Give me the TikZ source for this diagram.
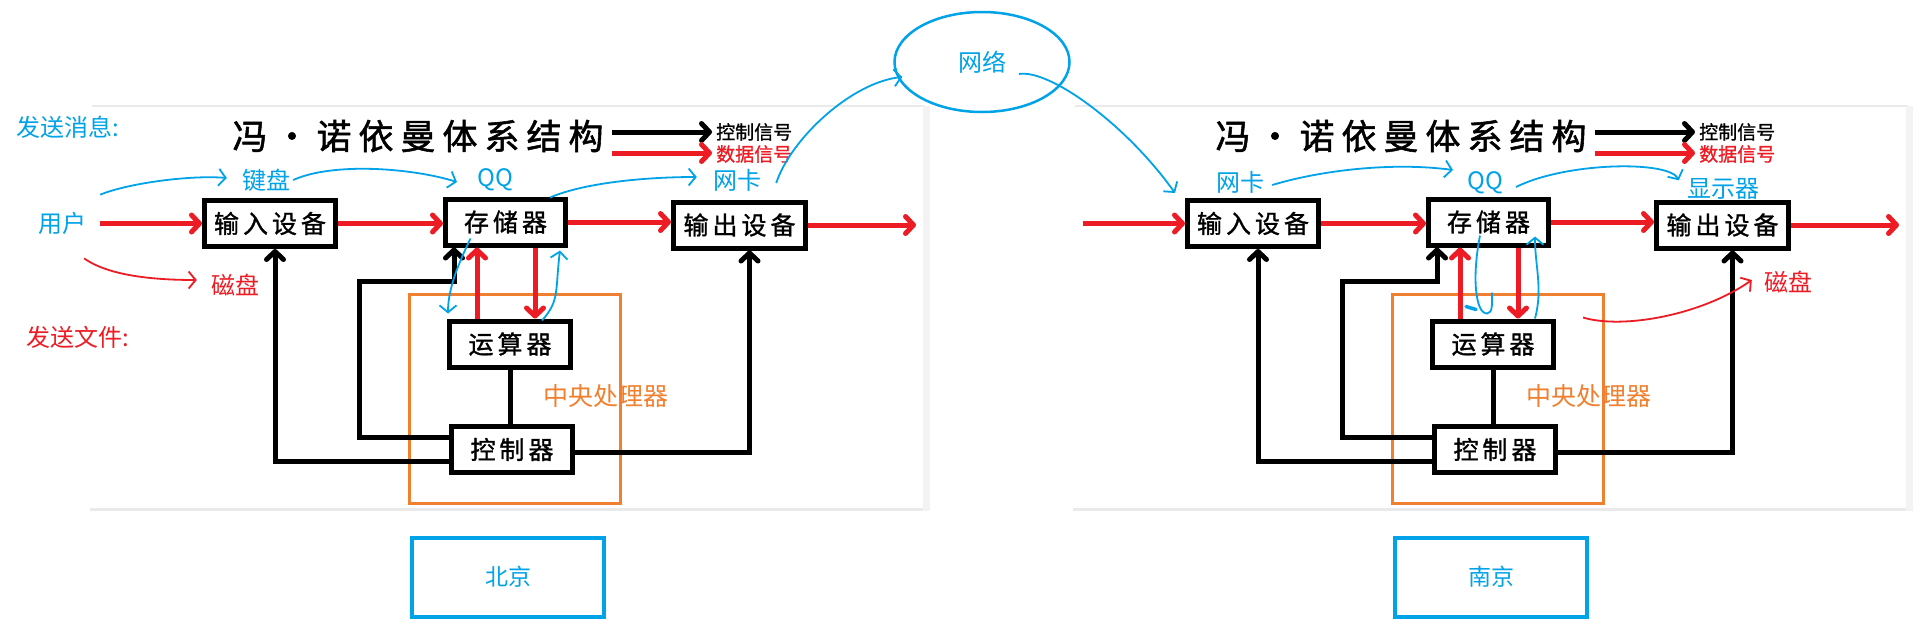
\documentclass[tikz,border=0pt]{standalone}
\usepackage{fontspec}
\usetikzlibrary{arrows.meta,shapes.geometric}
\newfontfamily\cjk{Noto Sans CJK SC}
\newfontfamily\cjkwide[LetterSpace=16,FakeBold=1.2]{Noto Sans CJK SC}
\newfontfamily\cjkhead[LetterSpace=20,FakeBold=1.5]{Noto Sans CJK SC}
\newfontfamily\cjkleg[FakeBold=1]{Noto Sans CJK SC}
\definecolor{pen}{RGB}{0,162,232}
\definecolor{sigred}{RGB}{237,28,36}
\definecolor{cpuorange}{RGB}{240,128,48}
\definecolor{rimgray}{RGB}{234,234,234}
\begin{document}
\begin{tikzpicture}[x=1pt,y=-1pt,
    unit/.style={draw,line width=5pt,minimum height=46pt,inner sep=0pt,font=\cjkwide\fontsize{25}{27}\selectfont},
    ctl/.style={line width=5pt,-{Straight Barb[length=8pt,width=17pt,round]}},
    dat/.style={ctl,draw=sigred},
    wire/.style={line width=5pt},
    hand/.style={draw=pen,line width=1.8pt,-{Straight Barb[length=7pt,width=17pt]}},
    lbl/.style={text=pen,inner sep=0pt,font=\cjk\fontsize{24}{26}\selectfont},
    legtext/.style={anchor=west,inner sep=0pt,font=\cjkleg\fontsize{19}{21}\selectfont},
    rim/.style={draw=rimgray,line width=1.5pt}]
    \fill[white] (0,0) rectangle (1930,633);
    \useasboundingbox (0,0) rectangle (1930,633);
    \foreach \p/\dx/\city in {bj/0/北京,nj/983/南京}{
    \begin{scope}[shift={(\dx,0)}]
    \draw[rim] (92,106)--(925,106);
    \fill[rimgray!60] (923,106) rectangle (930,511);
    \draw[rim,line width=3pt] (90,509)--(923,509);
    \node[font=\cjkhead\fontsize{35}{38}\selectfont,inner sep=0pt] (\p-title) at (418,136) {冯・诺依曼体系结构};
    \node[legtext] (\p-ctl) at (716,132) {控制信号};
    \node[legtext,text=sigred] (\p-dat) at (716,154) {数据信号};
    \coordinate (\p-k0) at (612,132);
    \coordinate (\p-d0) at (612,153);
    \draw[ctl] (\p-k0) -- ([xshift=-4pt]\p-ctl.west);
    \draw[dat] (\p-d0) -- ([xshift=-4pt]\p-dat.west |- \p-d0);
    \node[draw=cpuorange,line width=3pt,minimum width=211pt,minimum height=209pt] (\p-cpu) at (515,399) {};
    \node[anchor=west,inner sep=0pt,text=cpuorange,font=\cjk\fontsize{25}{27}\selectfont] (\p-cpulbl) at (543,396) {中央处理器};
    \node[unit,minimum width=131pt] (\p-in) at (270,223.5) {输入设备};
    \node[unit,minimum width=120pt] (\p-mem) at (505.5,222) {存储器};
    \node[unit,minimum width=132pt] (\p-out) at (739.5,225) {输出设备};
    \node[unit,minimum width=121pt] (\p-alu) at (510,344) {运算器};
    \node[unit,minimum width=121pt] (\p-cu) at (512,449.5) {控制器};
    \coordinate (\p-src) at (100,223.5);
    \coordinate (\p-snk) at (916,225);
    \coordinate (\p-bus) at (359,281);
    \draw[dat] (\p-src) -- (\p-in);
    \draw[dat] (\p-in.east) -- (\p-in.east -| \p-mem.west);
    \draw[dat] (\p-mem.east) -- (\p-mem.east -| \p-out.west);
    \draw[dat] (\p-out.east) -- (\p-snk);
    \draw[dat] ([xshift=-33pt]\p-alu.north) -- ([xshift=-33pt]\p-alu.north |- \p-mem.south);
    \draw[dat] ([xshift=25pt]\p-alu.north |- \p-mem.south) -- ([xshift=25pt]\p-alu.north);
    \draw[ctl] ([yshift=-11.5pt]\p-cu.west) -| ([xshift=5pt]\p-in.south);
    \draw[ctl] ([yshift=12.5pt]\p-cu.west) -| (\p-bus) -| ([xshift=-51.5pt]\p-mem.south);
    \draw[ctl] ([yshift=-3pt]\p-cu.east) -| ([xshift=10pt]\p-out.south);
    \draw[wire] (\p-alu.south) -- (\p-alu.south |- \p-cu.north);
    \node[draw=pen,line width=4pt,minimum width=192pt,minimum height=79pt,text=pen,font=\cjk\fontsize{23}{25}\selectfont] (\p-city) at (508,577) {\city};
    \end{scope}}
    \node[lbl,anchor=west] (sendmsg) at (16,127) {发送消息:};
    \node[lbl,text=sigred,anchor=west] (sendfile) at (26,337) {发送文件:};
    \node[lbl] (bj-user) at (62,223) {用户};
    \node[lbl] (bj-kb) at (266,180) {键盘};
    \node[lbl] (bj-qq) at (495,180) {QQ};
    \node[lbl] (bj-nic) at (737,180) {网卡};
    \node[lbl,text=sigred] (bj-disk) at (235,285) {磁盘};
    \node[lbl] (nj-nic) at (1240,182) {网卡};
    \node[lbl] (nj-qq) at (1485,183) {QQ};
    \node[lbl] (nj-disp) at (1723,189) {显示器};
    \node[lbl,text=sigred] (nj-disk) at (1788,282) {磁盘};
    \node[lbl,draw=pen,line width=2.5pt,ellipse,minimum width=175pt,minimum height=100pt] (net) at (982,62) {网络};
    \draw[hand] ([shift={(14,-17)}]bj-user.north east) .. controls +(30,-12) and +(-35,-3) .. ([shift={(-15,-2)}]bj-kb.west);
    \draw[hand] ([shift={(3,0)}]bj-kb.east) .. controls +(40,-18) and +(-45,-14) .. ([shift={(-20,2)}]bj-qq.west);
    \draw[hand] ([shift={(-35,-9)}]bj-mem.south) .. controls +(-12,25) and +(0,-25) .. ([shift={(1,-5)}]bj-alu.north west);
    \draw[hand] ([shift={(32,2)}]bj-alu.north) .. controls +(18,-20) and +(-5,40) .. ([shift={(-8,3)}]bj-mem.south east);
    \draw[hand] ([shift={(-18,1)}]bj-mem.north east) .. controls +(35,-15) and +(-50,0) .. ([shift={(-16,-3)}]bj-nic.west);
    \draw[hand] ([shift={(15,3)}]bj-nic.east) .. controls +(15,-45) and +(-50,5) .. ([shift={(9,15)}]net.west);
    \draw[hand] ([shift={(37,12)}]net.center) .. controls +(30,-5) and +(-50,-70) .. ([shift={(-10,-5)}]nj-in.north west);
    \draw[hand,draw=sigred] ([shift={(-2,24)}]bj-user.south east) .. controls +(25,18) and +(-40,0) .. ([shift={(-14,-5)}]bj-disk.west);
    \draw[hand] ([shift={(8,3)}]nj-nic.east) .. controls +(50,-15) and +(-60,-8) .. ([shift={(-14,-13)}]nj-qq.west);
    \draw[hand] ([shift={(13,4)}]nj-qq.east) .. controls +(50,-25) and +(-10,-20) .. ([shift={(-8,2)}]nj-disp.north west);
    \draw[hand,-] ([shift={(-8.5,-12)}]nj-mem.south) .. controls +(-8,40) and +(-12,0) .. ([shift={(-6,-5)}]nj-alu.north) .. controls +(6,0) and +(0,10) .. ([shift={(-1,-26)}]nj-alu.north);
    \draw[pen,line width=3.5pt,line cap=round] ([shift={(-27,-12)}]nj-alu.north) -- ++(10,3);
    \draw[hand] ([shift={(42,0)}]nj-alu.north) .. controls +(8,-30) and +(0,30) .. ([shift={(-16,-11)}]nj-mem.south east);
    \draw[hand,draw=sigred] ([shift={(27,-1)}]nj-alu.north east) .. controls +(40,12) and +(-50,35) .. ([shift={(-12,-2)}]nj-disk.west);
\end{tikzpicture}
\end{document}
